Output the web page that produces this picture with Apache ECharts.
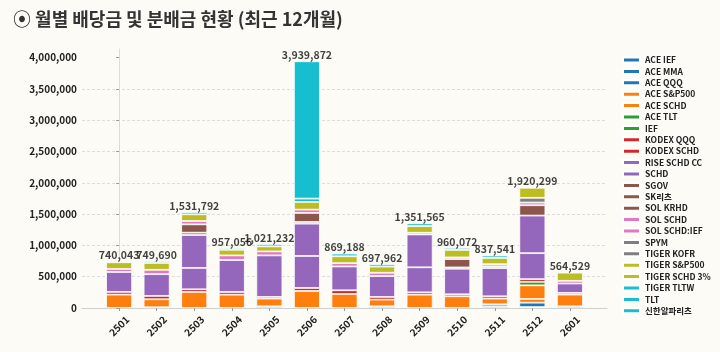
<!DOCTYPE html>
<html>
<head>
<meta charset="utf-8">
<script src="https://cdn.jsdelivr.net/npm/echarts@6/dist/echarts.min.js"></script>
<style>
  html, body { margin: 0; padding: 0; background: #fcfbf5; }
  #chart { width: 720px; height: 352px; }
</style>
</head>
<body>
<div id="chart"></div>
<script>
// 월 (x축)
var months = ["2501", "2502", "2503", "2504", "2505", "2506", "2507", "2508", "2509", "2510", "2511", "2512", "2601"];
// 월별 합계 (막대 위 라벨)
var totals = [740043, 749690, 1531792, 957056, 1021232, 3939872, 869188, 697962, 1351565, 960072, 837541, 1920299, 564529];
var yTicks = [0, 500000, 1000000, 1500000, 2000000, 2500000, 3000000, 3500000, 4000000];

// 종목별 배당금
var aceIef      = [0, 0, 0, 0, 0, 0, 0, 0, 0, 0, 27000, 0, 0];
var aceMma      = [0, 12000, 0, 0, 27000, 0, 0, 27000, 0, 0, 32000, 15000, 27000];
var aceQqq      = [0, 0, 0, 0, 0, 0, 0, 0, 0, 0, 0, 70000, 0];
var aceSp500    = [0, 0, 0, 0, 0, 0, 0, 0, 0, 0, 0, 60000, 0];
var aceSchd     = [214000, 128000, 256000, 213000, 123000, 272000, 224000, 107000, 213000, 187000, 91000, 217000, 187000];
var aceTlt      = [0, 0, 0, 0, 0, 0, 0, 0, 0, 0, 0, 0, 0];
var ief         = [0, 0, 0, 0, 0, 0, 0, 0, 0, 0, 0, 56000, 0];
var kodexQqq    = [0, 0, 0, 0, 0, 0, 0, 0, 0, 0, 0, 0, 0];
var kodexSchd   = [43000, 53000, 43000, 43000, 27000, 48000, 59000, 43000, 37000, 32000, 37000, 43000, 27000];
var riseSchdCc  = [0, 0, 341000, 0, 0, 511000, 0, 0, 400000, 0, 0, 415000, 0];
var schd        = [318000, 347690, 525792, 509000, 663232, 516000, 380188, 332962, 524565, 408072, 450541, 600000, 150000];
var sgov        = [0, 0, 37000, 0, 0, 27000, 0, 0, 0, 21000, 0, 0, 0];
var skReit      = [0, 0, 133000, 0, 0, 144000, 0, 0, 0, 133000, 0, 165000, 0];
var solKrhd     = [0, 0, 0, 0, 0, 0, 0, 0, 0, 0, 0, 0, 0];
var solSchd     = [48000, 69000, 53000, 75000, 64000, 53000, 53000, 53000, 27000, 27000, 27000, 43000, 43000];
var solSchdIef  = [0, 0, 0, 0, 0, 0, 0, 0, 0, 0, 0, 0, 0];
var spym        = [0, 0, 0, 0, 0, 0, 0, 0, 0, 0, 0, 0, 0];
var tigerKofr   = [0, 0, 0, 0, 0, 0, 0, 0, 0, 0, 0, 75000, 0];
var tigerSp500  = [0, 0, 0, 0, 0, 0, 0, 0, 0, 0, 35000, 0, 0];
var tigerSchd3  = [107000, 110000, 107000, 90000, 80000, 123000, 110000, 98000, 107000, 120000, 100000, 161299, 130529];
var tigerTltw   = [10043, 30000, 36000, 27056, 37000, 53000, 43000, 37000, 43000, 32000, 38000, 0, 0];
var tlt         = [0, 0, 0, 0, 0, 0, 0, 0, 0, 0, 0, 0, 0];
var shinhanReit = [0, 0, 0, 0, 0, 2192872, 0, 0, 0, 0, 0, 0, 0];

var seriesList = [
  ["ACE IEF", aceIef, 0], ["ACE MMA", aceMma, 0], ["ACE QQQ", aceQqq, 0],
  ["ACE S&P500", aceSp500, 1], ["ACE SCHD", aceSchd, 1],
  ["ACE TLT", aceTlt, 2], ["IEF", ief, 2],
  ["KODEX QQQ", kodexQqq, 3], ["KODEX SCHD", kodexSchd, 3],
  ["RISE SCHD CC", riseSchdCc, 4], ["SCHD", schd, 4],
  ["SGOV", sgov, 5], ["SK리츠", skReit, 5], ["SOL KRHD", solKrhd, 5],
  ["SOL SCHD", solSchd, 6], ["SOL SCHD:IEF", solSchdIef, 6],
  ["SPYM", spym, 7], ["TIGER KOFR", tigerKofr, 7],
  ["TIGER S&P500", tigerSp500, 8], ["TIGER SCHD 3%", tigerSchd3, 8],
  ["TIGER TLTW", tigerTltw, 9], ["TLT", tlt, 9], ["신한알파리츠", shinhanReit, 9]
];
var tab10 = ["#1f77b4", "#ff7f0e", "#2ca02c", "#d62728", "#9467bd", "#8c564b", "#e377c2", "#7f7f7f", "#bcbd22", "#17becf"];
var FONT = "'Noto Sans CJK KR', 'Noto Sans', sans-serif";
var idx = months.map(function (m, i) { return i; });

function fmt(v) { return Number(v).toLocaleString("en-US"); }

// 값을 첫 번째 차원에 두어 y 방향으로 쌓이게 함
var series = seriesList.map(function (s) {
  return {
    name: s[0],
    type: "bar",
    stack: "total",
    barWidth: 26,
    color: tab10[s[2]],
    encode: { x: 1, y: 0 },
    itemStyle: { borderColor: "#ffffff", borderWidth: 0.8 },
    data: s[1].map(function (v, i) { return [v > 0 ? v : "-", i]; })
  };
});
// 합계 라벨
series.push({
  name: "합계",
  type: "scatter",
  symbolSize: 0,
  silent: true,
  z: 10,
  data: totals.map(function (v, i) { return [i, v]; }),
  label: {
    show: true,
    position: "top",
    distance: 1,
    fontFamily: FONT,
    fontWeight: "bold",
    fontSize: 10.5,
    color: "#111",
    formatter: function (p) { return fmt(p.value[1]); }
  }
});

var chart = echarts.init(document.getElementById("chart"), null, { renderer: "canvas" });
chart.setOption({
  backgroundColor: "#fcfbf5",
  animation: false,
  title: {
    text: "⦿ 월별 배당금 및 분배금 현황 (최근 12개월)",
    left: 8,
    top: 5,
    textStyle: { fontFamily: FONT, fontSize: 18, fontWeight: "bold", color: "#333" }
  },
  legend: {
    data: seriesList.map(function (s) { return s[0]; }),
    orient: "vertical",
    left: 622,
    top: 55,
    padding: 0,
    icon: "rect",
    itemWidth: 17,
    itemHeight: 5,
    itemGap: 1.4,
    textStyle: { fontFamily: FONT, fontSize: 8.5, fontWeight: "bold", color: "#222", lineHeight: 10 }
  },
  grid: { left: 82, right: 113, top: 49, bottom: 44 },
  xAxis: {
    type: "value",
    min: -0.987,
    max: 12.987,
    splitLine: { show: false },
    axisLine: { show: true, lineStyle: { color: "#cfcfcf", width: 1 } },
    axisTick: { show: true, length: 3, lineStyle: { color: "#999" }, customValues: idx },
    axisLabel: {
      customValues: idx,
      rotate: 45,
      align: "center",
      verticalAlign: "middle",
      margin: 18,
      fontFamily: FONT,
      fontWeight: "bold",
      fontSize: 10,
      color: "#222",
      formatter: function (v) { return months[Math.round(v)] || ""; }
    }
  },
  yAxis: {
    type: "value",
    min: 0,
    max: 4136000,
    interval: 500000,
    axisLine: { show: true, lineStyle: { color: "#dcdcdc", width: 1 } },
    axisTick: { show: true, length: 3, lineStyle: { color: "#999" }, customValues: yTicks },
    splitLine: { show: true, showMaxLine: false, lineStyle: { color: "#dddddd", type: [3, 2], width: 1 } },
    axisLabel: {
      customValues: yTicks,
      margin: 5,
      fontFamily: FONT,
      fontWeight: "bold",
      fontSize: 10,
      color: "#222",
      formatter: function (v) { return fmt(v); }
    }
  },
  series: series
});
</script>
</body>
</html>
